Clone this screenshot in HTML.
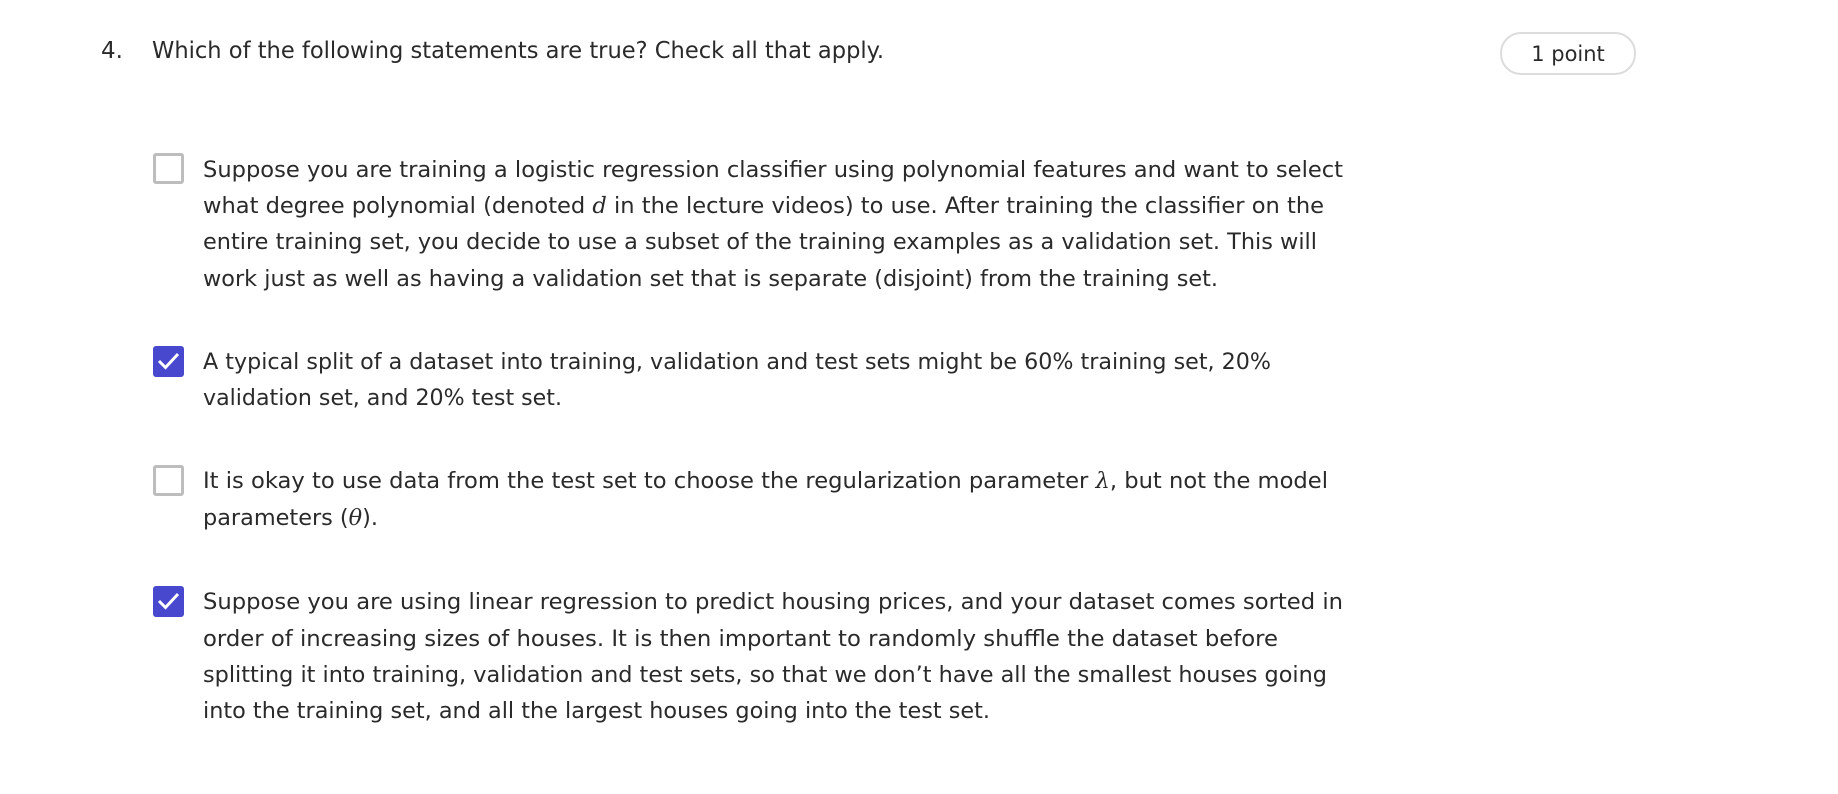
<!DOCTYPE html>
<html><head><meta charset="utf-8"><style>
body{margin:0;width:1838px;height:794px;background:#fff;position:relative;overflow:hidden;font-family:"DejaVu Sans","Liberation Sans",sans-serif;color:#2a2a2a}
.l{position:absolute;left:203px;font-size:22px;white-space:nowrap;line-height:1;transform-origin:0 50%}
.cb{position:absolute;left:153px;width:25px;height:25px;border:3px solid #bdbdbd;border-radius:3px;box-sizing:content-box}
.ck{position:absolute;left:153px;width:31px;height:31px;background:#4848cf;border-radius:3px}
.ck svg{position:absolute;left:4px;top:5px}
i{font-family:"DejaVu Serif",serif}
</style></head><body>
<div style="position:absolute;left:101px;top:38px;font-size:23px">4.</div>
<div id="qt" style="position:absolute;left:152px;top:38px;font-size:23px;white-space:nowrap;transform-origin:0 50%">Which of the following statements are true? Check all that apply.</div>
<div style="position:absolute;left:1500px;top:32px;width:132px;height:39px;border:2px solid #dcdcdc;border-radius:21px;text-align:center;line-height:40px;font-size:21px">1 point</div>

<div class="cb" style="top:153px"></div>
<div>
<div class="l" style="top:160px">Suppose you are training a logistic regression classifier using polynomial features and want to select</div>
<div class="l" style="top:196px">what degree polynomial (denoted <i>d</i> in the lecture videos) to use. After training the classifier on the</div>
<div class="l" style="top:232px">entire training set, you decide to use a subset of the training examples as a validation set. This will</div>
<div class="l" style="top:269px">work just as well as having a validation set that is separate (disjoint) from the training set.</div>
</div>

<div class="ck" style="top:346px"><svg width="23" height="20" viewBox="0 0 23 20"><path d="M2 10 L8.5 16.5 L21 3" stroke="#fff" stroke-width="3" fill="none"/></svg></div>
<div>
<div class="l" style="top:352px">A typical split of a dataset into training, validation and test sets might be 60% training set, 20%</div>
<div class="l" style="top:388px">validation set, and 20% test set.</div>
</div>

<div class="cb" style="top:465px"></div>
<div>
<div class="l" style="top:471px">It is okay to use data from the test set to choose the regularization parameter <i>λ</i>, but not the model</div>
<div class="l" style="top:508px">parameters (<i>θ</i>).</div>
</div>

<div class="ck" style="top:586px"><svg width="23" height="20" viewBox="0 0 23 20"><path d="M2 10 L8.5 16.5 L21 3" stroke="#fff" stroke-width="3" fill="none"/></svg></div>
<div>
<div class="l" style="top:592px">Suppose you are using linear regression to predict housing prices, and your dataset comes sorted in</div>
<div class="l" style="top:629px">order of increasing sizes of houses. It is then important to randomly shuffle the dataset before</div>
<div class="l" style="top:665px">splitting it into training, validation and test sets, so that we don’t have all the smallest houses going</div>
<div class="l" style="top:701px">into the training set, and all the largest houses going into the test set.</div>
</div>
<script>
var targets=[1343,1324,1317,1218,1271,562,1328,378,1343,1278,1327,990];
document.querySelectorAll('.l').forEach(function(e,i){var w=e.getBoundingClientRect().width;if(w>0)e.style.transform='scaleX('+(targets[i]-203)/w+')';});
var q=document.getElementById('qt');var qw=q.getBoundingClientRect().width;if(qw>0)q.style.transform='scaleX('+(884-152)/qw+')';
</script>
</body></html>
